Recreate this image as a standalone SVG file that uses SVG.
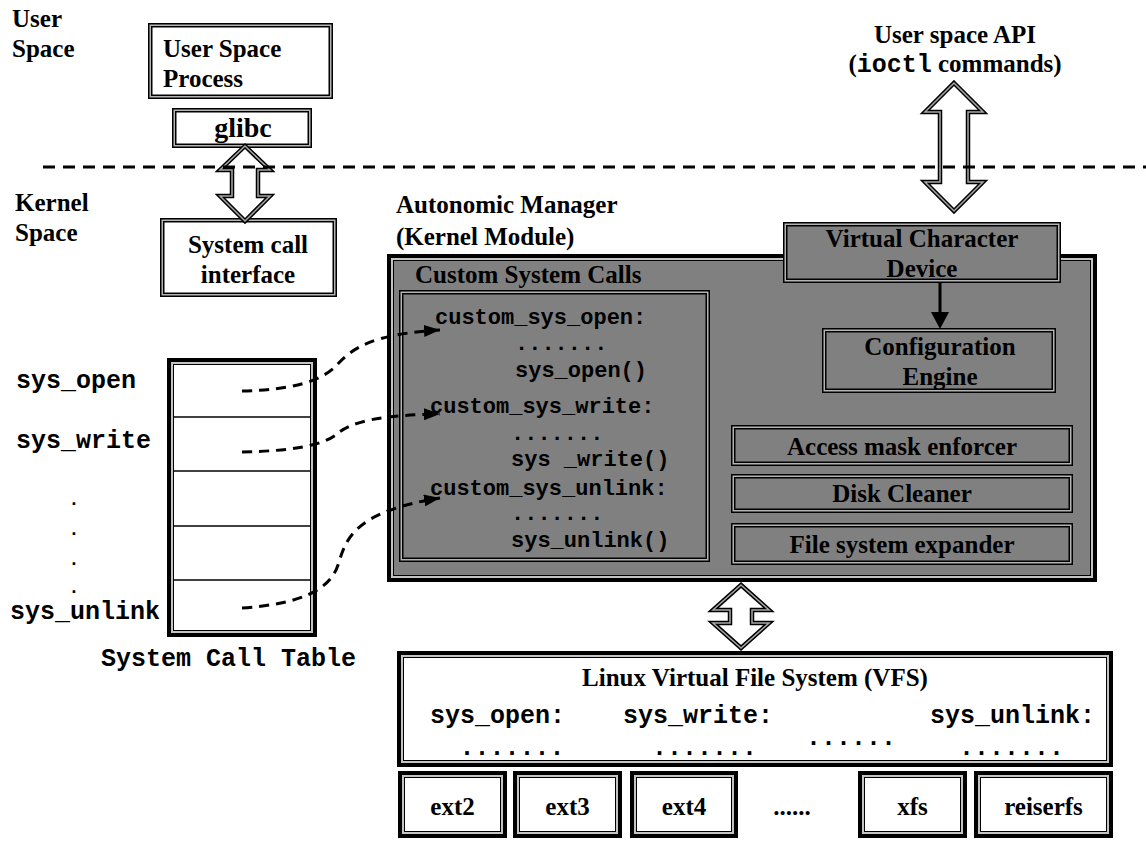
<svg xmlns="http://www.w3.org/2000/svg" width="1146" height="842" viewBox="0 0 1146 842">
<style>
.s{font-family:"Liberation Serif","Times New Roman",serif;font-weight:bold;font-size:25px;fill:#000}
.m{font-family:"Liberation Mono","Courier New",monospace;font-weight:bold;fill:#000}
.m22{font-size:22px}
.m25{font-size:25px}
.m18{font-size:18px}
.c{text-anchor:middle}
.to{stroke:#000;stroke-width:4.5}
.ti{fill:none;stroke:#b4b4b4;stroke-width:1.5}
.ko{stroke:#000;stroke-width:7}
.ki{fill:none;stroke:#c4c4c4;stroke-width:2}
.w{fill:#fff}
.g{fill:#808080}
.dash{fill:none;stroke:#000;stroke-width:3;stroke-dasharray:10 7}
.dar{fill:#fff;stroke:#000;stroke-width:4.5;stroke-linejoin:miter}
.dari{fill:none;stroke:#a8a8a8;stroke-width:1.5;stroke-linejoin:miter}
</style>
<defs>
<marker id="ah" viewBox="0 0 16 12" refX="16" refY="6" markerWidth="16" markerHeight="12" markerUnits="userSpaceOnUse" orient="auto">
<path d="M0,0 L16,6 L0,12 Z" fill="#000"/>
</marker>
</defs>
<rect width="1146" height="842" fill="#fff"/>

<g id="labels">
<text class="s" x="12" y="27">User</text>
<text class="s" x="12" y="57">Space</text>
<text class="s" x="15" y="211">Kernel</text>
<text class="s" x="15" y="241">Space</text>
<text class="s" x="396" y="213">Autonomic Manager</text>
<text class="s" x="396" y="245">(Kernel Module)</text>
<text class="s c" x="955" y="43">User space API</text>
<text class="s c" x="955" y="72">(<tspan class="m m25">ioctl</tspan> commands)</text>
</g>

<g id="user-space-process">
<rect class="w to" x="150.25" y="25.25" width="180.5" height="71.5"/>
<rect class="ti" x="150.25" y="25.25" width="180.5" height="71.5"/>
<text class="s" x="163" y="57">User Space</text>
<text class="s" x="163" y="87">Process</text>
</g>

<g id="glibc">
<rect class="w to" x="174.25" y="110.25" width="135.5" height="35.5"/>
<rect class="ti" x="174.25" y="110.25" width="135.5" height="35.5"/>
<text class="s c" x="243" y="137" style="font-size:28px">glibc</text>
</g>

<g id="system-call-interface">
<rect class="w to" x="162.25" y="220.25" width="172.5" height="74.5"/>
<rect class="ti" x="162.25" y="220.25" width="172.5" height="74.5"/>
<text class="s c" x="248" y="253">System call</text>
<text class="s c" x="248" y="283">interface</text>
</g>

<g id="system-call-table">
<rect class="w ko" x="170.5" y="361.5" width="143" height="272"/>
<rect class="ki" x="172" y="363" width="140" height="269"/>
<g stroke="#000" stroke-width="1.3">
<line x1="173" y1="417" x2="311" y2="417"/>
<line x1="173" y1="471" x2="311" y2="471"/>
<line x1="173" y1="526" x2="311" y2="526"/>
<line x1="173" y1="580" x2="311" y2="580"/>
</g>
<text class="m m25" x="16" y="388">sys_open</text>
<text class="m m25" x="16" y="448">sys_write</text>
<text class="m m18" x="68.6" y="505">.</text>
<text class="m m18" x="68.6" y="535">.</text>
<text class="m m18" x="68.6" y="565">.</text>
<text class="m m18" x="68.6" y="593">.</text>
<text class="m m25" x="10" y="619">sys_unlink</text>
<text class="m m25" x="101" y="666">System Call Table</text>
</g>

<g id="autonomic-manager">
<rect class="g ko" x="390.5" y="257.5" width="703" height="321"/>
<rect class="ki" x="392" y="259" width="700" height="318"/>
<text class="s" x="415" y="283">Custom System Calls</text>
</g>

<g id="custom-system-calls">
<rect class="g to" x="401.25" y="292.25" width="306.5" height="267.5"/>
<rect class="ti" x="401.25" y="292.25" width="306.5" height="267.5"/>
<text class="m m22" x="435" y="324">custom_sys_open:</text>
<text class="m m22" x="515" y="350">.......</text>
<text class="m m22" x="515" y="377">sys_open()</text>
<text class="m m22" x="430" y="413">custom_sys_write:</text>
<text class="m m22" x="511" y="440">.......</text>
<text class="m m22" x="511" y="466">sys _write()</text>
<text class="m m22" x="430" y="495">custom_sys_unlink:</text>
<text class="m m22" x="511" y="520">.......</text>
<text class="m m22" x="511" y="547">sys_unlink()</text>
</g>

<g id="virtual-character-device">
<rect class="g to" x="785.25" y="224.25" width="273.5" height="56.5"/>
<rect class="ti" x="785.25" y="224.25" width="273.5" height="56.5"/>
<text class="s c" x="922" y="247">Virtual Character</text>
<text class="s c" x="922" y="277">Device</text>
</g>

<g id="configuration-engine">
<rect class="g to" x="824.25" y="330.25" width="229.5" height="60.5"/>
<rect class="ti" x="824.25" y="330.25" width="229.5" height="60.5"/>
<text class="s c" x="940" y="355">Configuration</text>
<text class="s c" x="940" y="385">Engine</text>
</g>

<g id="access-mask-enforcer">
<rect class="g to" x="733.25" y="427.25" width="337.5" height="36.5"/>
<rect class="ti" x="733.25" y="427.25" width="337.5" height="36.5"/>
<text class="s c" x="902" y="455">Access mask enforcer</text>
</g>

<g id="disk-cleaner">
<rect class="g to" x="733.25" y="476.25" width="337.5" height="34.5"/>
<rect class="ti" x="733.25" y="476.25" width="337.5" height="34.5"/>
<text class="s c" x="902" y="502">Disk Cleaner</text>
</g>

<g id="file-system-expander">
<rect class="g to" x="733.25" y="525.25" width="337.5" height="37.5"/>
<rect class="ti" x="733.25" y="525.25" width="337.5" height="37.5"/>
<text class="s c" x="902" y="553">File system expander</text>
</g>

<g id="vfs">
<rect class="w ko" x="400.5" y="654.5" width="709" height="109"/>
<rect class="ki" x="402" y="656" width="706" height="106"/>
<text class="s c" x="755" y="686">Linux Virtual File System (VFS)</text>
<text class="m m25" x="430" y="723">sys_open:</text>
<text class="m m25" x="623" y="723">sys_write:</text>
<text class="m m25" x="930" y="723">sys_unlink:</text>
<text class="m m25" x="459.5" y="755">.......</text>
<text class="m m25" x="652" y="755">.......</text>
<text class="m m25" x="806" y="745">......</text>
<text class="m m25" x="959" y="755">.......</text>
</g>

<g id="ext2">
<rect class="w ko" x="401.5" y="774.5" width="102" height="60"/>
<rect class="ki" x="403" y="776" width="99" height="57"/>
<text class="s c" x="452.5" y="815">ext2</text>
</g>
<g id="ext3">
<rect class="w ko" x="516.5" y="774.5" width="102" height="60"/>
<rect class="ki" x="518" y="776" width="99" height="57"/>
<text class="s c" x="567.5" y="815">ext3</text>
</g>
<g id="ext4">
<rect class="w ko" x="633.5" y="774.5" width="101" height="60"/>
<rect class="ki" x="635" y="776" width="98" height="57"/>
<text class="s c" x="684" y="815">ext4</text>
</g>
<g id="more-fs">
<text class="s c" x="792" y="815">......</text>
</g>
<g id="xfs">
<rect class="w ko" x="861.5" y="774.5" width="102" height="60"/>
<rect class="ki" x="863" y="776" width="99" height="57"/>
<text class="s c" x="912.5" y="815">xfs</text>
</g>
<g id="reiserfs">
<rect class="w ko" x="977.5" y="774.5" width="132" height="60"/>
<rect class="ki" x="979" y="776" width="129" height="57"/>
<text class="s c" x="1043.5" y="815">reiserfs</text>
</g>

<g id="connectors">
<path class="dar" d="M245,146 L270,170 L258,170 L258,196 L270,196 L245,221 L220,196 L232,196 L232,170 L220,170 Z"/>
<path class="dari" d="M245,146 L270,170 L258,170 L258,196 L270,196 L245,221 L220,196 L232,196 L232,170 L220,170 Z"/>
<path class="dar" d="M954,83 L983,112 L968,112 L968,182 L983,182 L954,211 L925,182 L940,182 L940,112 L925,112 Z"/>
<path class="dari" d="M954,83 L983,112 L968,112 L968,182 L983,182 L954,211 L925,182 L940,182 L940,112 L925,112 Z"/>
<path class="dar" d="M741,585 L769,610 L752,610 L752,623 L769,623 L741,648 L713,623 L730,623 L730,610 L713,610 Z"/>
<path class="dari" d="M741,585 L769,610 L752,610 L752,623 L769,623 L741,648 L713,623 L730,623 L730,610 L713,610 Z"/>
<line x1="43" y1="167" x2="1146" y2="167" stroke="#000" stroke-width="3" stroke-dasharray="12 8"/>
<line x1="940" y1="283" x2="940" y2="314" stroke="#000" stroke-width="3"/>
<path d="M931,312 L949,312 L940,329 Z" fill="#000"/>
<path class="dash" d="M242,391 C290,390 320,382 336,366 C352,348 372,334 440,330" marker-end="url(#ah)"/>
<path class="dash" d="M242,452 C290,451 322,446 337,434 C352,421 382,415 440,414" marker-end="url(#ah)"/>
<path class="dash" d="M242,608 C300,604 330,590 338,565 C346,540 352,512 440,498" marker-end="url(#ah)"/>
</g>
</svg>
